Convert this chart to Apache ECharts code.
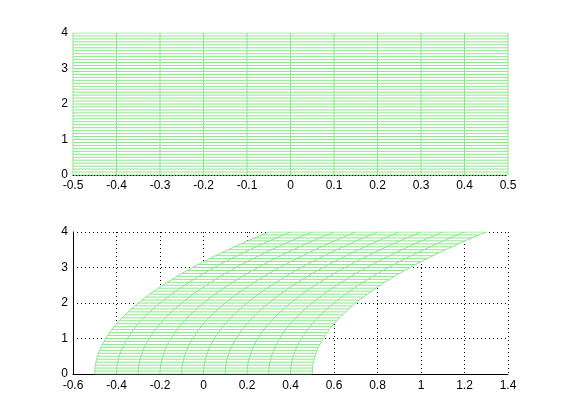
<!DOCTYPE html>
<html>
<head>
<meta charset="utf-8">
<script src="https://cdn.jsdelivr.net/npm/echarts@6/dist/echarts.min.js"></script>
<style>html,body{margin:0;padding:0;background:#fff}#c{width:561px;height:420px}</style>
</head>
<body>
<div id="c"></div>
<script>
// Mesh columns (x) and rows (y) of the original grid
const meshX = [-0.5, -0.4, -0.3, -0.2, -0.1, 0, 0.1, 0.2, 0.3, 0.4, 0.5];
const meshY = [0, 0.083, 0.167, 0.25, 0.333, 0.417, 0.5, 0.583, 0.667, 0.75, 0.833, 0.917,
  1, 1.083, 1.167, 1.25, 1.333, 1.417, 1.5, 1.583, 1.667, 1.75, 1.833, 1.917,
  2, 2.083, 2.167, 2.25, 2.333, 2.417, 2.5, 2.583, 2.667, 2.75, 2.833, 2.917,
  3, 3.083, 3.167, 3.25, 3.333, 3.417, 3.5, 3.583, 3.667, 3.75, 3.833, 3.917, 4];
// Horizontal shift of each row in the lower (deformed) mesh
const rowShift = [0, 0.0003, 0.0014, 0.003, 0.0056, 0.0087, 0.0125, 0.017, 0.022, 0.028, 0.035, 0.042,
  0.05, 0.059, 0.068, 0.078, 0.089, 0.1, 0.1125, 0.125, 0.139, 0.153, 0.168, 0.184,
  0.2, 0.217, 0.235, 0.253, 0.272, 0.292, 0.3125, 0.334, 0.356, 0.378, 0.401, 0.425,
  0.45, 0.475, 0.501, 0.528, 0.556, 0.584, 0.6125, 0.642, 0.672, 0.703, 0.735, 0.767, 0.8];
// Axis ranges / ticks
const topXTicks = [-0.5, 0.5, 0.1];
const botXTicks = [-0.6, 1.4, 0.2];
const yTicks = [0, 4, 1];

const GREEN = '#8ae68a';
const FONT = 'Liberation Sans';
const series = [];

function lineSeries(gi, data) {
  series.push({
    type: 'line', xAxisIndex: gi, yAxisIndex: gi, data: data,
    symbol: 'none', silent: true, animation: false, z: 3,
    lineStyle: { color: GREEN, width: 1 }
  });
}

// Top: regular mesh
meshX.forEach(x => lineSeries(0, [[x, meshY[0]], [x, meshY[meshY.length - 1]]]));
meshY.forEach(y => lineSeries(0, [[meshX[0], y], [meshX[meshX.length - 1], y]]));

// Bottom: white face of deformed mesh (hides grid)
const leftB = meshY.map((y, i) => [meshX[0] + rowShift[i], y]);
const rightB = meshY.map((y, i) => [meshX[meshX.length - 1] + rowShift[i], y]).reverse();
const poly = leftB.concat(rightB);
series.push({
  type: 'custom', xAxisIndex: 1, yAxisIndex: 1, data: [[0, 0]], silent: true, animation: false, z: 2,
  renderItem: function (params, api) {
    return { type: 'polygon', shape: { points: poly.map(p => api.coord(p)) }, style: { fill: '#fff' } };
  }
});
// Bottom: deformed mesh lines
meshX.forEach(x => lineSeries(1, meshY.map((y, i) => [x + rowShift[i], y])));
meshY.forEach((y, i) => lineSeries(1, [[meshX[0] + rowShift[i], y], [meshX[meshX.length - 1] + rowShift[i], y]]));

const labelStyle = { color: '#000', fontFamily: FONT, fontSize: 12 };

const option = {
  animation: false,
  backgroundColor: '#fff',
  grid: [
    { left: 73, top: 33, width: 435, height: 142 },
    { left: 73, top: 232, width: 435, height: 142 }
  ],
  xAxis: [
    { type: 'value', gridIndex: 0, min: topXTicks[0], max: topXTicks[1], interval: topXTicks[2], z: 10,
      axisLine: { show: true, onZero: false, lineStyle: { color: '#000', type: [1, 2], width: 1 } },
      axisTick: { show: false }, splitLine: { show: false },
      axisLabel: Object.assign({ margin: 5, formatter: v => String(+v.toFixed(1)) }, labelStyle) },
    { type: 'value', gridIndex: 1, min: botXTicks[0], max: botXTicks[1], interval: botXTicks[2],
      axisLine: { show: true, onZero: false, lineStyle: { color: '#000', width: 1 } },
      axisTick: { show: false },
      splitLine: { show: true, lineStyle: { color: '#000', type: [1, 3], width: 1 } },
      axisLabel: Object.assign({ margin: 6, formatter: v => String(+v.toFixed(1)) }, labelStyle) }
  ],
  yAxis: [
    { type: 'value', gridIndex: 0, min: yTicks[0], max: yTicks[1], interval: yTicks[2],
      axisLine: { show: false }, axisTick: { show: false }, splitLine: { show: false },
      axisLabel: Object.assign({ margin: 5 }, labelStyle) },
    { type: 'value', gridIndex: 1, min: yTicks[0], max: yTicks[1], interval: yTicks[2],
      axisLine: { show: true, onZero: false, lineStyle: { color: '#000', width: 1 } },
      axisTick: { show: false },
      splitLine: { show: true, lineStyle: { color: '#000', type: [1, 3], width: 1 } },
      axisLabel: Object.assign({ margin: 5 }, labelStyle) }
  ],
  series: series
};

const chart = echarts.init(document.getElementById('c'), null, { renderer: 'canvas' });
chart.setOption(option);
</script>
</body>
</html>
